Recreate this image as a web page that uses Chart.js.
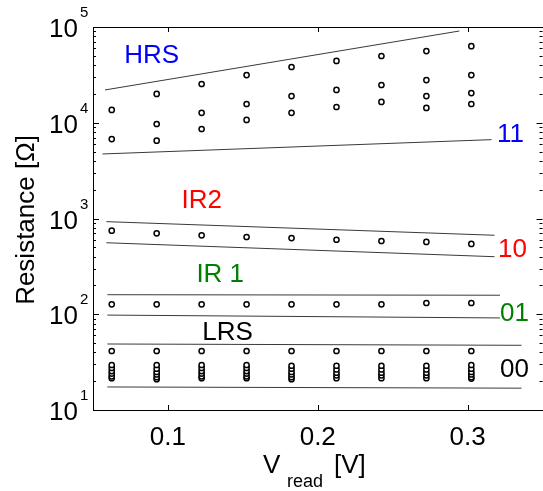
<!DOCTYPE html>
<html>
<head>
<meta charset="utf-8">
<script src="https://cdn.jsdelivr.net/npm/chart.js@4"></script>
<style>
  body { margin: 0; background: #fff; overflow: hidden; }
  #wrap { width: 548px; height: 491px; }
</style>
</head>
<body>
<div id="wrap"><canvas id="grafico" width="548" height="491"></canvas></div>
<script>
// leitura de tensão (V)
const vread = [0.0625, 0.0925, 0.1225, 0.1525, 0.1825, 0.2125, 0.2425, 0.2725, 0.3025];

// HRS (11)
const hrsTop = [13600, 20000, 25400, 31500, 38200, 44200, 49800, 56100, 63000];
const hrsMid = [6760, 9700, 12700, 15700, 19000, 22000, 24800, 27900, 31500];
const hrsLow = [null, 6500, 8600, 10700, 12700, 14600, 16500, 19000, 20400];
const hrsExtra = [null, null, null, null, null, null, null, 14300, 15700];

// IR2 (10) e IR1 (01)
const ir2 = [746, 700, 668, 641, 625, 600, 582, 569, 542];
const ir1 = [127, 127, 127, 127, 127, 127, 127, 131, 131];

// LRS (00)
const lrsTop = [41.3, 41.3, 41.3, 41.3, 41.3, 41.3, 41.3, 41.3, 41.3];
const lrsA = [29.5, 29.5, 29.5, 29.5, 29, 29, 29, 29, 29.5];
const lrsB = [27.5, 27, 27.5, 27.5, 27, 26.5, 26.5, 26.5, 27];
const lrsC = [25.5, 25, 25.5, 25.5, 25, 24.5, 24.5, 24.5, 25];
const lrsD = [24, 23.5, 24, 24, 23.5, 23, 23, 23, 23.5];
const lrsE = [22.5, 22, 22.5, 22.5, 22, 21.5, 21.5, 21.5, 22];
const lrsF = [21.5, 21, 21.5, 21.5, 21, null, null, null, 21.3];

// limites entre os estados: [x inicial, x final], [R inicial, R final]
const limX = {
  hrsUp: [0.058, 0.2945], hrsDown: [0.0563, 0.316],
  ir2Up: [0.0589, 0.318], ir2Down: [0.0589, 0.318],
  ir1Up: [0.0596, 0.3216], ir1Down: [0.0596, 0.3216],
  lrsUp: [0.0596, 0.336], lrsDown: [0.0596, 0.336],
};
const hrsUp = [22000, 90800];
const hrsDown = [4720, 6660];
const ir2Up = [927, 668];
const ir2Down = [558, 399];
const ir1Up = [160, 158];
const ir1Down = [98, 91.5];
const lrsUp = [48.9, 47.4];
const lrsDown = [17.4, 16.9];

// rótulos dos estados (posição em coordenadas dos dados)
const rotulos = [
  { t: "HRS", x: 0.0708, y: 42000, c: "#0000ff" },
  { t: "11", x: 0.3196, y: 6300, c: "#0000ff" },
  { t: "IR2", x: 0.1091, y: 1290, c: "#ff0000" },
  { t: "10", x: 0.3203, y: 396, c: "#ff0000" },
  { t: "IR 1", x: 0.119, y: 217, c: "#008000" },
  { t: "01", x: 0.3216, y: 85, c: "#008000" },
  { t: "LRS", x: 0.1229, y: 53.8, c: "#000000" },
  { t: "00", x: 0.3216, y: 22.1, c: "#000000" },
];

const xTicks = [0.1, 0.2, 0.3];
const yDecadas = [1, 2, 3, 4, 5];

const FONTE = '"Liberation Sans", Arial, sans-serif';

function pontos(vals) {
  const out = [];
  vals.forEach((v, i) => { if (v !== null) out.push({ x: vread[i], y: v }); });
  return out;
}
function linha(xs, ys) {
  return [{ x: xs[0], y: ys[0] }, { x: xs[1], y: ys[1] }];
}

const serieCirculos = [hrsTop, hrsMid, hrsLow, hrsExtra, ir2, ir1, lrsTop, lrsA, lrsB, lrsC, lrsD, lrsE, lrsF]
  .map(v => ({
    data: pontos(v),
    showLine: false,
    pointRadius: 2.6,
    pointBorderWidth: 1.5,
    pointBorderColor: "#000",
    pointBackgroundColor: "#fff",
  }));

const serieLinhas = [
  [limX.hrsUp, hrsUp], [limX.hrsDown, hrsDown],
  [limX.ir2Up, ir2Up], [limX.ir2Down, ir2Down],
  [limX.ir1Up, ir1Up], [limX.ir1Down, ir1Down],
  [limX.lrsUp, lrsUp], [limX.lrsDown, lrsDown],
].map(([xs, ys]) => ({
  data: linha(xs, ys),
  showLine: true,
  pointRadius: 0,
  borderColor: "#3a3a3a",
  borderWidth: 1,
}));

// eixos, ticks e textos desenhados à moda do MATLAB
const moldura = {
  id: "moldura",
  afterDraw(chart) {
    const ctx = chart.ctx;
    const a = chart.chartArea;
    const sx = chart.scales.x, sy = chart.scales.y;
    ctx.save();
    ctx.strokeStyle = "#000";
    ctx.lineWidth = 1;
    ctx.strokeRect(Math.round(a.left) + 0.5, Math.round(a.top) + 0.5,
      Math.round(a.right - a.left), Math.round(a.bottom - a.top));

    ctx.beginPath();
    xTicks.forEach(v => {
      const px = Math.round(sx.getPixelForValue(v)) + 0.5;
      ctx.moveTo(px, a.bottom); ctx.lineTo(px, a.bottom - 5);
      ctx.moveTo(px, a.top); ctx.lineTo(px, a.top + 5);
    });
    yDecadas.forEach(d => {
      for (let m = 1; m <= 9; m++) {
        const val = m * Math.pow(10, d);
        if (val > 1e5) break;
        const py = Math.round(sy.getPixelForValue(val)) + 0.5;
        const len = m === 1 ? 6 : 3;
        ctx.moveTo(a.left, py); ctx.lineTo(a.left + len, py);
        ctx.moveTo(a.right, py); ctx.lineTo(a.right - len, py);
      }
    });
    ctx.stroke();

    ctx.fillStyle = "#000";
    // rótulos do eixo x
    ctx.font = "26px " + FONTE;
    ctx.textAlign = "center";
    ctx.textBaseline = "alphabetic";
    xTicks.forEach(v => ctx.fillText(String(v), sx.getPixelForValue(v), 445));

    // rótulos do eixo y (10^n)
    yDecadas.forEach(d => {
      const py = sy.getPixelForValue(Math.pow(10, d));
      ctx.font = "26px " + FONTE;
      ctx.textAlign = "right";
      ctx.fillText("10", 78, py + 10);
      ctx.font = "15px " + FONTE;
      ctx.textAlign = "left";
      ctx.fillText(String(d), 80, py - 10);
    });

    // título do eixo x: V_read [V]
    ctx.textAlign = "left";
    ctx.font = "26px " + FONTE;
    ctx.fillText("V", 263, 473);
    ctx.font = "18px " + FONTE;
    ctx.fillText("read", 287, 487);
    ctx.font = "26px " + FONTE;
    ctx.fillText("[V]", 334, 473);

    // título do eixo y
    ctx.save();
    ctx.translate(27, 220);
    ctx.rotate(-Math.PI / 2);
    ctx.textAlign = "center";
    ctx.textBaseline = "middle";
    ctx.font = "26px " + FONTE;
    ctx.fillText("Resistance [\u03A9]", 0, 0);
    ctx.restore();

    // nomes dos estados
    ctx.font = "26px " + FONTE;
    ctx.textAlign = "left";
    ctx.textBaseline = "alphabetic";
    rotulos.forEach(r => {
      ctx.fillStyle = r.c;
      ctx.fillText(r.t, sx.getPixelForValue(r.x), sy.getPixelForValue(r.y));
    });
    ctx.restore();
  },
};

const config = {
  type: "scatter",
  data: { datasets: [...serieLinhas, ...serieCirculos] },
  options: {
    responsive: false,
    animation: false,
    layout: { padding: { top: 27, left: 0, right: 0, bottom: 0 } },
    plugins: { legend: { display: false }, tooltip: { enabled: false } },
    scales: {
      x: {
        type: "linear",
        min: 0.05,
        max: 0.35,
        grid: { display: false },
        border: { display: false },
        ticks: { display: false },
        afterFit: s => { s.height = 81; },
      },
      y: {
        type: "logarithmic",
        min: 10,
        max: 100000,
        grid: { display: false },
        border: { display: false },
        ticks: { display: false },
        afterFit: s => { s.width = 93; },
      },
    },
  },
  plugins: [moldura],
};

const grafico = new Chart(document.getElementById("grafico"), config);
</script>
</body>
</html>
